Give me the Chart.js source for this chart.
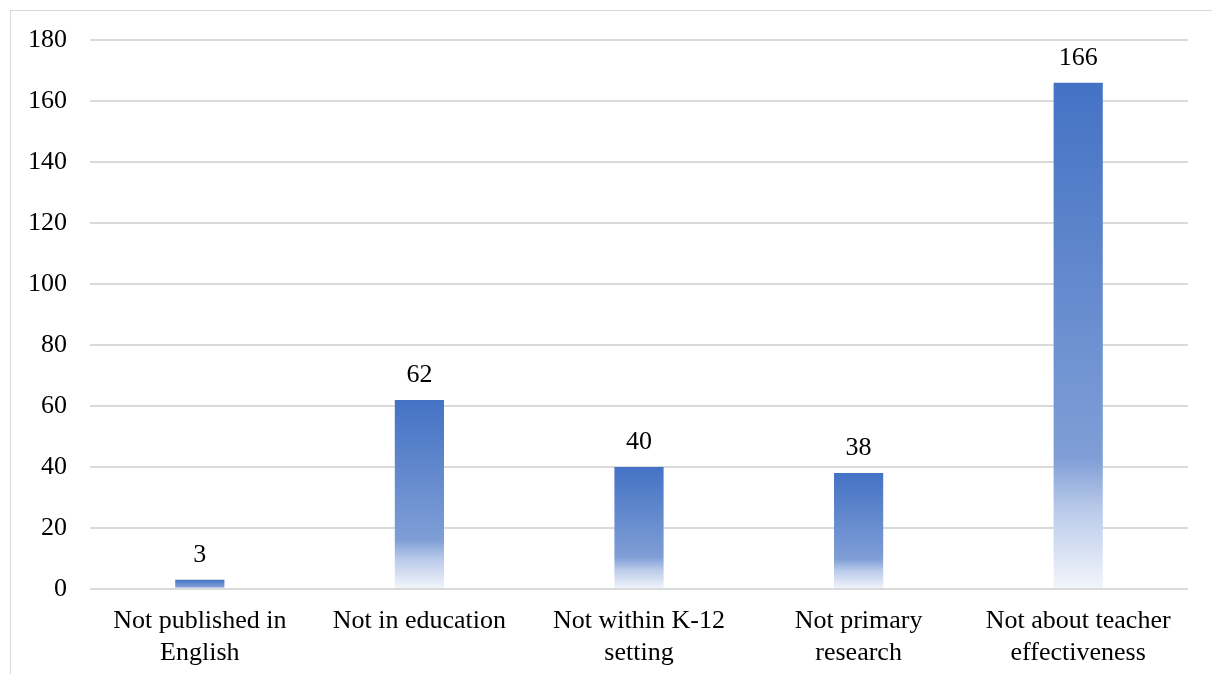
<!DOCTYPE html>
<html>
<head>
<meta charset="utf-8">
<script src="https://cdn.jsdelivr.net/npm/chart.js@4/dist/chart.umd.min.js"></script>
<style>
    html, body { margin: 0; padding: 0; background: #fff; }
    #wrap { position: relative; width: 1212px; height: 674px; }
    #frame {
        position: absolute; left: 10px; top: 10px; right: -2px; bottom: -2px;
        border-top: 1px solid #d9d9d9; border-left: 1px solid #d9d9d9;
    }
    canvas { position: absolute; left: 0; top: 0; }
</style>
</head>
<body>
<div id="wrap">
    <div id="frame"></div>
    <canvas id="chart" width="1212" height="674"></canvas>
</div>
<script>
'use strict';

const categories = [
    ['Not published in', 'English'],
    'Not in education',
    ['Not within K-12', 'setting'],
    ['Not primary', 'research'],
    ['Not about teacher', 'effectiveness']
];
const counts = [3, 62, 40, 38, 166];
const y_ticks = [0, 20, 40, 60, 80, 100, 120, 140, 160, 180];

const font_family = '"Liberation Serif", "Times New Roman", serif';
const font_size = 26;

// fill each bar with its own top-to-bottom fade, like the office gradient
function bar_fill(context) {
    const chart = context.chart;
    if (!chart.chartArea || context.type !== 'data') {
        return '#4472C4';
    }
    const y = chart.scales.y;
    const top = y.getPixelForValue(context.raw);
    const base = y.getPixelForValue(0);
    if (base - top < 1) {
        return '#4472C4';
    }
    const grad = chart.ctx.createLinearGradient(0, top, 0, base);
    grad.addColorStop(0, '#4472C4');
    grad.addColorStop(0.74, '#7F9ED6');
    grad.addColorStop(0.84, '#B8C9E9');
    grad.addColorStop(1, '#F3F6FB');
    return grad;
}

const value_labels = {
    id: 'value_labels',
    afterDatasetsDraw(chart) {
        const ctx = chart.ctx;
        const meta = chart.getDatasetMeta(0);
        ctx.save();
        ctx.font = font_size + 'px ' + font_family;
        ctx.fillStyle = '#000';
        ctx.textAlign = 'center';
        ctx.textBaseline = 'bottom';
        meta.data.forEach((bar, i) => {
            ctx.fillText(String(counts[i]), bar.x, bar.y - 12);
        });
        ctx.restore();
    }
};

new Chart(document.getElementById('chart'), {
    type: 'bar',
    data: {
        labels: categories,
        datasets: [{
            data: counts,
            backgroundColor: bar_fill,
            borderWidth: 0,
            barPercentage: 0.224,
            categoryPercentage: 1
        }]
    },
    options: {
        responsive: false,
        animation: false,
        layout: { padding: { left: 0, right: 24, top: 40, bottom: 0 } },
        plugins: {
            legend: { display: false },
            tooltip: { enabled: false }
        },
        scales: {
            x: {
                grid: { display: false, drawTicks: false },
                border: { display: false },
                ticks: {
                    color: '#000',
                    padding: 17,
                    maxRotation: 0,
                    autoSkip: false,
                    font: { family: font_family, size: font_size, lineHeight: 1.2 }
                },
                afterFit(scale) { scale.height = 85; }
            },
            y: {
                min: 0,
                max: 180,
                afterBuildTicks(scale) {
                    scale.ticks = y_ticks.map(v => ({ value: v }));
                },
                grid: { color: '#dadada', lineWidth: 2, drawTicks: false },
                border: { display: false },
                ticks: {
                    color: '#000',
                    padding: 23,
                    font: { family: font_family, size: font_size }
                },
                afterFit(scale) { scale.width = 90; }
            }
        }
    },
    plugins: [value_labels]
});
</script>
</body>
</html>
